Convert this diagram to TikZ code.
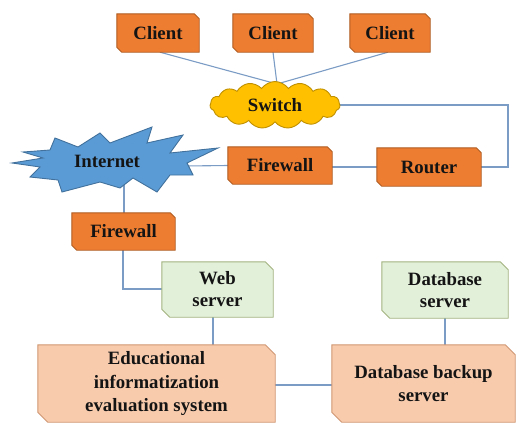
\documentclass[tikz,border=0pt]{standalone}
\usepackage{fontspec}
\setmainfont{Liberation Serif}
\usetikzlibrary{shapes.symbols,backgrounds,calc}
\definecolor{orfill}{HTML}{ED7D31}
\definecolor{ordraw}{HTML}{B05A1E}
\definecolor{grfill}{HTML}{E2EFD9}
\definecolor{grdraw}{HTML}{A3B47F}
\definecolor{pkfill}{HTML}{F8CBAD}
\definecolor{pkdraw}{HTML}{CF9670}
\definecolor{stfill}{HTML}{5B9BD5}
\definecolor{stdraw}{HTML}{41719C}
\definecolor{clfill}{HTML}{FFC000}
\definecolor{cldraw}{HTML}{C09000}
\definecolor{wire}{HTML}{7B9CC4}
\newcommand\snipbox[4]{%
  \filldraw[fill=#3,draw=#4,line width=0.9pt,line join=miter]
    (#1.north west) -- ([xshift=-#2]#1.north east) -- ([yshift=-#2]#1.north east)
    -- (#1.south east) -- ([xshift=#2]#1.south west) -- ([yshift=#2]#1.south west) -- cycle;}
\tikzset{
  x=1pt,y=-1pt,
  lbl/.style={font=\fontsize{18.8}{22}\selectfont\bfseries,align=center,inner sep=0pt,text=black!92},
  biglbl/.style={lbl,font=\fontsize{18.8}{23.5}\selectfont\bfseries},
  wirestyle/.style={draw=wire,line width=1.1pt},
}
\begin{document}
\begin{tikzpicture}
\useasboundingbox (0,0) rectangle (516,423);
% nodes (text only, shapes drawn on background)
\node[lbl,minimum width=82,minimum height=38] (c1) at (158,33) {Client};
\node[lbl,minimum width=80,minimum height=38] (c2) at (273,33) {Client};
\node[lbl,minimum width=80,minimum height=38] (c3) at (390,33) {Client};
\node[lbl,cloud,cloud puffs=15,cloud puff arc=110,aspect=2.8,fill=clfill,draw=cldraw,line width=0.9pt,
      minimum width=130,minimum height=47] (switch) at (275,105) {Switch};
\node[lbl,minimum width=104,minimum height=38] (router) at (429,167) {Router};
\node[lbl,minimum width=104,minimum height=37] (fw1) at (280,165.5) {Firewall};
\node[lbl] (internet) at (107,161) {Internet};
\node[lbl,minimum width=103,minimum height=37] (fw2) at (123.5,231.5) {Firewall};
\node[lbl,minimum width=111,minimum height=55] (web) at (217.5,289.5) {Web\\server};
\node[lbl,minimum width=126,minimum height=56] (dbs) at (445,290) {Database\\server};
\node[biglbl,minimum width=237,minimum height=77] (edu) at (156.5,383.5) {Educational\\informatization\\evaluation system};
\node[biglbl,minimum width=183,minimum height=77] (backup) at (423.5,383.5) {Database backup\\server};
\coordinate (swtop) at (277,84);
\coordinate (swright) at (508,103);
\coordinate (inetR) at (185,166);
\coordinate (inetB) at (124,182);
\coordinate (webbend) at (123,289);
\begin{scope}[on background layer]
  % connectors
  \draw[wirestyle] ([xshift=2]c1.south) -- (swtop);
  \draw[wirestyle] (c2.south) -- (swtop);
  \draw[wirestyle] ([xshift=-2]c3.south) -- (swtop);
  \draw[wirestyle] (switch.east) -- (switch.east -| swright) -- (swright |- router.east) -- (router.east);
  \draw[wirestyle] (router.west) -- (router.west -| fw1.east);
  \draw[wirestyle] (fw1.west) -- (inetR);
  \draw[wirestyle] (inetB) -- (inetB |- fw2.north);
  \draw[wirestyle] (fw2.south -| webbend) -- (webbend) -- (web.west |- webbend);
  \draw[wirestyle] ([xshift=-4.5]web.south) -- ([xshift=-4.5]web.south |- edu.north);
  \draw[wirestyle] (dbs.south) -- (dbs.south |- backup.north);
  \draw[wirestyle] (edu.east |- 0,385) -- (backup.west |- 0,385);
  % star
  \filldraw[fill=stfill,draw=stdraw,line width=0.9pt,line join=miter]
    (12,163) -- (40,167) -- (30,177) -- (58,180) -- (62,192) -- (100,182)
    -- (120,188) -- (133,178) -- (157,192) -- (170,175) -- (193,175) -- (187,163)
    -- (218,148) -- (170,153) -- (183,135) -- (147,143) -- (152,127) -- (110,143)
    -- (100,133) -- (78,147) -- (55,138) -- (50,150) -- (23,152) -- (43,158) -- cycle;
  % boxes
  \snipbox{c1}{5pt}{orfill}{ordraw}
  \snipbox{c2}{5pt}{orfill}{ordraw}
  \snipbox{c3}{5pt}{orfill}{ordraw}
  \snipbox{router}{5pt}{orfill}{ordraw}
  \snipbox{fw1}{5pt}{orfill}{ordraw}
  \snipbox{fw2}{5pt}{orfill}{ordraw}
  \snipbox{web}{8pt}{grfill}{grdraw}
  \snipbox{dbs}{8pt}{grfill}{grdraw}
  \snipbox{edu}{10pt}{pkfill}{pkdraw}
  \snipbox{backup}{10pt}{pkfill}{pkdraw}
\end{scope}
\end{tikzpicture}
\end{document}
